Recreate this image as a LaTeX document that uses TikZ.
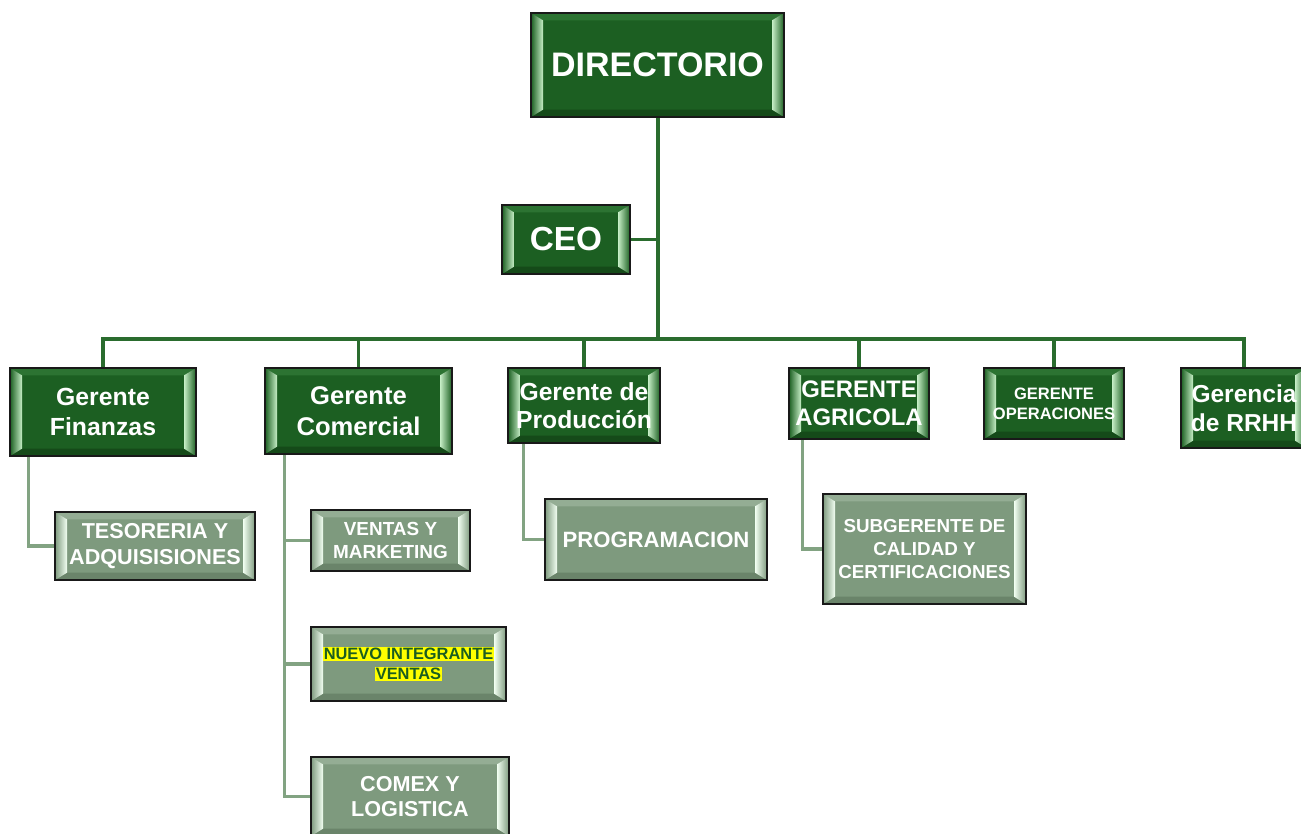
\documentclass[tikz,border=0pt]{standalone}
\usepackage{fontspec}
\setmainfont{Liberation Sans}
\usetikzlibrary{calc,backgrounds}
\definecolor{dg}{HTML}{1C5F22}
\definecolor{dgT}{HTML}{2C7332}
\definecolor{dgB}{HTML}{154A19}
\definecolor{dgH}{HTML}{C6EEC6}
\definecolor{lg}{HTML}{7E9A7E}
\definecolor{lgT}{HTML}{94AD94}
\definecolor{lgB}{HTML}{6A846A}
\definecolor{lgH}{HTML}{F2FFF2}
\definecolor{dline}{HTML}{2A6C2E}
\definecolor{lline}{HTML}{82A382}
\definecolor{hl}{HTML}{FFFF00}
\definecolor{hltext}{HTML}{1B5E20}
\tikzset{
  bev/.style n args={4}{fill=#1, draw=black!90, line width=1.1pt,
    path picture={
      \path (path picture bounding box.south west) coordinate (bSW)
            (path picture bounding box.north east) coordinate (bNE);
      \path (bSW |- bNE) coordinate (bNW) (bNE |- bSW) coordinate (bSE);
      \path ($(bSW)+(9pt,5.5pt)$) coordinate (iSW)
            ($(bNE)+(-9pt,-5.5pt)$) coordinate (iNE);
      \path (iSW |- iNE) coordinate (iNW) (iNE |- iSW) coordinate (iSE);
      \fill[#2] (bNW) -- (bNE) -- (iNE) -- (iNW) -- cycle;
      \fill[#3] (bSW) -- (bSE) -- (iSE) -- (iSW) -- cycle;
      \shade[left color=#1, right color=#4] (bSW) -- (bNW) -- (iNW) -- (iSW) -- cycle;
      \shade[left color=#4, right color=#1] (bSE) -- (bNE) -- (iNE) -- (iSE) -- cycle;
    }},
  sz/.style 2 args={minimum width=#1*0.75pt, minimum height=#2*0.75pt},
  dbox/.style={bev={dg}{dgT}{dgB}{dgH}, text=white, align=center, inner sep=0pt},
  lbox/.style={bev={lg}{lgT}{lgB}{lgH}, text=white, align=center, inner sep=0pt},
  dconn/.style={draw=dline, line width=2.4pt, line join=miter},
  lconn/.style={draw=lline, line width=2.4pt, line join=miter},
}
\begin{document}
\begin{tikzpicture}[x=0.75pt,y=-0.75pt]
\useasboundingbox (0,0) rectangle (1301,833);
% top level
\node[dbox, sz={253}{104}, font={\fontsize{25.5}{30}\selectfont\bfseries}] (dir) at (657.5,65) {DIRECTORIO};
\node[dbox, sz={128}{69}, font={\fontsize{25}{30}\selectfont\bfseries}] (ceo) at (566,239.5) {CEO};
% managers
\node[dbox, sz={186}{88}, font={\fontsize{18.6}{22.5}\selectfont\bfseries}] (fin) at (103,412) {Gerente\\Finanzas};
\node[dbox, sz={187}{86}, font={\fontsize{19.2}{23}\selectfont\bfseries}] (com) at (358.5,411) {Gerente\\Comercial};
\node[dbox, sz={152}{75}, font={\fontsize{18.5}{21}\selectfont\bfseries}] (pro) at (584,405.5) {Gerente de\\Producción};
\node[dbox, sz={140}{71}, font={\fontsize{17.9}{21}\selectfont\bfseries}] (agr) at (859,403.5) {GERENTE\\AGRICOLA};
\node[dbox, sz={140}{71}, font={\fontsize{12.4}{15}\selectfont\bfseries}] (ope) at (1054,403.5) {GERENTE\\OPERACIONES};
\node[dbox, sz={126}{80}, font={\fontsize{18.4}{22}\selectfont\bfseries}] (rrhh) at (1244,408) {Gerencia\\de RRHH};
% sub level
\node[lbox, sz={200}{68}, font={\fontsize{16.2}{19.5}\selectfont\bfseries}] (tes) at (155,546) {TESORERIA Y\\ADQUISISIONES};
\node[lbox, sz={159}{61}, font={\fontsize{14.2}{17}\selectfont\bfseries}] (ven) at (390.5,540.5) {VENTAS Y\\MARKETING};
\node[lbox, sz={195}{74}, font={\fontsize{12.3}{15.2}\selectfont\bfseries}] (nue) at (408.5,664)
  {\setlength{\fboxsep}{0.6pt}\colorbox{hl}{\textcolor{hltext}{NUEVO INTEGRANTE}}\\[-0.3pt]\setlength{\fboxsep}{0.6pt}\colorbox{hl}{\textcolor{hltext}{VENTAS}}};
\node[lbox, sz={198}{79}, font={\fontsize{16.2}{19}\selectfont\bfseries}] (cmx) at (410,796.5) {COMEX Y\\LOGISTICA};
\node[lbox, sz={222}{81}, font={\fontsize{16.6}{20}\selectfont\bfseries}] (prg) at (656,539.5) {PROGRAMACION};
\node[lbox, sz={203}{110}, font={\fontsize{14.1}{17.5}\selectfont\bfseries}] (sub) at (924.5,549) {SUBGERENTE DE\\CALIDAD Y\\CERTIFICACIONES};
% connectors
\coordinate (bus) at (657.5,339);
\begin{scope}[on background layer]
  \draw[dconn, line width=3pt] (dir.south) -- (bus);
  \draw[dconn] (ceo.east) -- (ceo.east -| bus);
  \draw[dconn] (fin.north) |- (bus);
  \draw[dconn] (com.north) |- (bus);
  \draw[dconn] (pro.north) |- (bus);
  \draw[dconn] (agr.north) |- (bus);
  \draw[dconn] (ope.north) |- (bus);
  \draw[dconn] (rrhh.north) |- (bus);
  \coordinate (finT) at ($(fin.south west)+(19,0)$);
  \coordinate (comT) at ($(com.south west)+(20,0)$);
  \coordinate (proT) at ($(pro.south west)+(16,0)$);
  \coordinate (agrT) at ($(agr.south west)+(14,0)$);
  \draw[lconn] (finT) |- (tes.west);
  \draw[lconn] (comT) |- (cmx.west);
  \draw[lconn] (ven.west) -- (ven.west -| comT);
  \draw[lconn] (nue.west) -- (nue.west -| comT);
  \draw[lconn] (proT) |- (prg.west);
  \draw[lconn] (agrT) |- (sub.west);
\end{scope}
\end{tikzpicture}
\end{document}
